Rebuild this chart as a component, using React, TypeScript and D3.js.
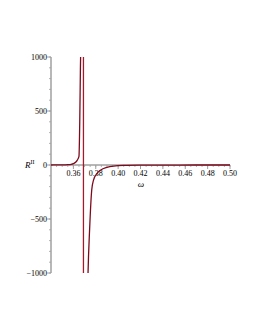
import { useEffect, useRef } from 'react';
import * as d3 from 'd3';

// left branch of R^II(omega)
const leftOmega = [0.34, 0.345, 0.35, 0.355, 0.358, 0.36, 0.362, 0.3635, 0.365, 0.3657, 0.3663, 0.367];
const leftR = [0, 0.5, 1, 3, 6, 12, 25, 45, 80, 400, 900, 1300];

// right branch
const rightOmega = [0.3725, 0.3731, 0.3745, 0.3764, 0.378, 0.381, 0.3845, 0.39, 0.396, 0.405, 0.42, 0.44, 0.47, 0.5];
const rightR = [-1300, -1000, -600, -231, -140, -80, -46, -22, -10, -4, -1.5, -0.6, -0.2, 0];

const asymptote = 0.369;

const xTicks = [0.36, 0.38, 0.40, 0.42, 0.44, 0.46, 0.48, 0.50];
const yTicks = [-1000, -500, 0, 500, 1000];

export default function App() {
  const svgRef = useRef<SVGSVGElement>(null);

  useEffect(() => {
    if (!svgRef.current) return;
    const svg = d3.select(svgRef.current);
    svg.selectAll('*').remove();

    const x = d3.scaleLinear().domain([0.34, 0.5]).range([51, 230]);
    const y = d3.scaleLinear().domain([-1000, 1000]).range([273, 57]);

    const font = '"Liberation Serif", "Times New Roman", serif';
    const axisColor = '#a0a0a0';

    svg.append('defs').append('clipPath').attr('id', 'plot')
      .append('rect').attr('x', 40).attr('y', 57).attr('width', 200).attr('height', 216);

    // axes
    svg.append('line')
      .attr('x1', x(0.34)).attr('x2', x(0.5)).attr('y1', y(0)).attr('y2', y(0))
      .attr('stroke', axisColor).attr('stroke-width', 1.5);
    svg.append('line')
      .attr('x1', x(0.34)).attr('x2', x(0.34)).attr('y1', y(1000)).attr('y2', y(-1000))
      .attr('stroke', axisColor).attr('stroke-width', 1.5);

    // minor ticks
    const minorY = d3.range(-1000, 1001, 100);
    svg.append('g').selectAll('line').data(minorY).join('line')
      .attr('x1', x(0.34) - 2).attr('x2', x(0.34))
      .attr('y1', (d) => y(d)).attr('y2', (d) => y(d))
      .attr('stroke', axisColor).attr('stroke-width', 0.8);
    svg.append('g').selectAll('line').data(yTicks).join('line')
      .attr('x1', x(0.34) - 4).attr('x2', x(0.34))
      .attr('y1', (d) => y(d)).attr('y2', (d) => y(d))
      .attr('stroke', axisColor).attr('stroke-width', 1);

    const minorX = d3.range(0.345, 0.5001, 0.005);
    svg.append('g').selectAll('line').data(minorX).join('line')
      .attr('x1', (d) => x(d)).attr('x2', (d) => x(d))
      .attr('y1', y(0)).attr('y2', y(0) + 2)
      .attr('stroke', axisColor).attr('stroke-width', 0.8);
    svg.append('g').selectAll('line').data(xTicks).join('line')
      .attr('x1', (d) => x(d)).attr('x2', (d) => x(d))
      .attr('y1', y(0)).attr('y2', y(0) + 4)
      .attr('stroke', axisColor).attr('stroke-width', 1);

    // tick labels
    svg.append('g').selectAll('text').data(yTicks).join('text')
      .attr('x', x(0.34) - 4).attr('y', (d) => y(d) + 3)
      .attr('text-anchor', 'end')
      .attr('font-family', font).attr('font-size', 8).attr('fill', '#000')
      .text((d) => (d < 0 ? '\u2212' + Math.abs(d) : String(d)));
    svg.append('g').selectAll('text').data(xTicks).join('text')
      .attr('x', (d) => x(d)).attr('y', y(0) + 11)
      .attr('text-anchor', 'middle')
      .attr('font-family', font).attr('font-size', 8).attr('fill', '#000')
      .text((d) => d.toFixed(2));

    // axis labels
    svg.append('text')
      .attr('x', 141).attr('y', 187)
      .attr('text-anchor', 'middle')
      .attr('font-family', font).attr('font-size', 9).attr('font-style', 'italic')
      .text('\u03c9');
    const rl = svg.append('text')
      .attr('x', 25).attr('y', 168)
      .attr('font-family', font).attr('font-size', 9).attr('font-style', 'italic');
    rl.append('tspan').text('R');
    rl.append('tspan').attr('dy', -4).attr('font-size', 6).attr('font-style', 'normal').text('II');

    const plot = svg.append('g').attr('clip-path', 'url(#plot)');

    // asymptote
    plot.append('line')
      .attr('x1', x(asymptote)).attr('x2', x(asymptote))
      .attr('y1', y(1000)).attr('y2', y(-1000))
      .attr('stroke', '#a01c2c').attr('stroke-width', 1.3);

    const line = d3.line<[number, number]>()
      .x((d) => x(d[0]))
      .y((d) => y(d[1]))
      .curve(d3.curveMonotoneX);

    const leftPts = leftOmega.map((w, i) => [w, leftR[i]] as [number, number]);
    const rightPts = rightOmega.map((w, i) => [w, rightR[i]] as [number, number]);

    plot.append('path').datum(leftPts)
      .attr('fill', 'none').attr('stroke', '#7d0a1c').attr('stroke-width', 1.3)
      .attr('d', line);
    plot.append('path').datum(rightPts)
      .attr('fill', 'none').attr('stroke', '#7d0a1c').attr('stroke-width', 1.3)
      .attr('d', line);
  }, []);

  return (
    <svg
      ref={svgRef}
      width={255}
      height={330}
      style={{ position: 'absolute', left: 0, top: 0, background: '#fff' }}
    />
  );
}
